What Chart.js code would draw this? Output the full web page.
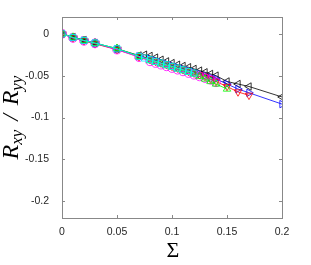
<!DOCTYPE html>
<html>
<head>
<meta charset="utf-8">
<script src="https://cdn.jsdelivr.net/npm/chart.js@4"></script>
<style>
  html, body { margin: 0; padding: 0; background: #fff; }
  #wrap { width: 311px; height: 265px; }
</style>
</head>
<body>
<div id="wrap"><canvas id="c" width="311" height="265"></canvas></div>
<script>
// axis ticks
const xTicks = [0, 0.05, 0.1, 0.15, 0.2];
const xTickLabels = ['0', '0.05', '0.1', '0.15', '0.2'];
const yTicks = [-0.2, -0.15, -0.1, -0.05, 0];
const yTickLabels = ['-0.2', '-0.15', '-0.1', '-0.05', '0'];

// series (Sigma, Rxy/Ryy)
const blackSigma = [0, 0.01, 0.02, 0.03, 0.05, 0.07, 0.075, 0.08, 0.085, 0.09, 0.095, 0.1, 0.105, 0.11, 0.115, 0.12, 0.125, 0.13, 0.135, 0.14, 0.15, 0.16, 0.17, 0.2];
const blackRatio = [0, -0.004, -0.0075, -0.011, -0.018, -0.026, -0.025, -0.0265, -0.0285, -0.031, -0.033, -0.035, -0.037, -0.0385, -0.040, -0.042, -0.044, -0.046, -0.048, -0.050, -0.057, -0.060, -0.063, -0.0755];

const blueSigma = [0, 0.01, 0.02, 0.03, 0.05, 0.07, 0.08, 0.085, 0.09, 0.095, 0.1, 0.105, 0.11, 0.115, 0.12, 0.125, 0.13, 0.135, 0.14, 0.15, 0.16, 0.17, 0.2];
const blueRatio = [0, -0.0045, -0.008, -0.0115, -0.0185, -0.027, -0.030, -0.032, -0.034, -0.036, -0.038, -0.040, -0.042, -0.044, -0.046, -0.048, -0.050, -0.052, -0.054, -0.060, -0.066, -0.0705, -0.084];

const redSigma = [0, 0.01, 0.02, 0.03, 0.05, 0.07, 0.08, 0.085, 0.09, 0.095, 0.1, 0.105, 0.11, 0.115, 0.12, 0.125, 0.13, 0.135, 0.14, 0.15, 0.16, 0.17];
const redRatio = [0, -0.005, -0.0085, -0.012, -0.019, -0.0275, -0.031, -0.033, -0.035, -0.037, -0.039, -0.041, -0.043, -0.045, -0.047, -0.049, -0.051, -0.054, -0.057, -0.063, -0.0695, -0.0735];

const greenSigma = [0, 0.01, 0.02, 0.03, 0.05, 0.07, 0.08, 0.085, 0.09, 0.095, 0.1, 0.105, 0.11, 0.115, 0.12, 0.125, 0.13, 0.135, 0.14, 0.15];
const greenRatio = [0, -0.004, -0.008, -0.0115, -0.0175, -0.027, -0.032, -0.034, -0.036, -0.038, -0.040, -0.042, -0.044, -0.046, -0.048, -0.051, -0.054, -0.057, -0.060, -0.066];

const magentaSigma = [0, 0.01, 0.02, 0.03, 0.05, 0.07, 0.08, 0.085, 0.09, 0.095, 0.1, 0.105, 0.11, 0.115, 0.12, 0.125, 0.13, 0.135, 0.14];
const magentaRatio = [0, -0.005, -0.0085, -0.0115, -0.019, -0.028, -0.033, -0.035, -0.037, -0.039, -0.041, -0.043, -0.045, -0.047, -0.049, -0.051, -0.053, -0.055, -0.058];

const cyanSigma = [0, 0.01, 0.02, 0.03, 0.05, 0.07, 0.075, 0.08, 0.085, 0.09, 0.095, 0.1, 0.105, 0.11, 0.115, 0.12];
const cyanRatio = [0, -0.0045, -0.008, -0.011, -0.018, -0.027, -0.029, -0.031, -0.033, -0.035, -0.037, -0.039, -0.041, -0.043, -0.045, -0.047];

const starSigma = [0, 0.01, 0.02, 0.03, 0.05, 0.07];
const starRatio = [0, -0.0045, -0.008, -0.011, -0.018, -0.027];

const pts = (xs, ys) => xs.map((x, i) => ({ x: x, y: ys[i] }));

// pentagram marker
function pentagram(size, color) {
    const cv = document.createElement('canvas');
    cv.width = size; cv.height = size;
    const g = cv.getContext('2d');
    const r = size / 2 - 0.5, cx = size / 2, cy = size / 2;
    g.beginPath();
    for (let k = 0; k < 5; k++) {
        const a = -Math.PI / 2 + k * 4 * Math.PI / 5;
        const px = cx + r * Math.cos(a), py = cy + r * Math.sin(a);
        if (k === 0) g.moveTo(px, py); else g.lineTo(px, py);
    }
    g.closePath();
    g.strokeStyle = color;
    g.lineWidth = 1;
    g.stroke();
    return cv;
}

function series(label, data, color, style, rotation) {
    return {
        label: label,
        data: data,
        borderColor: color,
        backgroundColor: 'rgba(0,0,0,0)',
        pointBorderColor: color,
        pointBackgroundColor: 'rgba(0,0,0,0)',
        pointStyle: style,
        rotation: rotation || 0,
        pointRadius: 4.3,
        pointBorderWidth: 0.8,
        borderWidth: 0.8,
        showLine: true,
        tension: 0
    };
}

const frame = {
    id: 'frame',
    afterDraw(chart) {
        const ctx = chart.ctx;
        const a = chart.chartArea;
        const xs = chart.scales.x, ys = chart.scales.y;
        ctx.save();
        ctx.strokeStyle = '#888888';
        ctx.lineWidth = 1;
        ctx.strokeRect(Math.round(a.left) + 0.5, Math.round(a.top) + 0.5,
            Math.round(a.right - a.left), Math.round(a.bottom - a.top));
        ctx.beginPath();
        const t = 3;
        xTicks.forEach(v => {
            const px = Math.round(xs.getPixelForValue(v)) + 0.5;
            ctx.moveTo(px, a.bottom); ctx.lineTo(px, a.bottom - t);
            ctx.moveTo(px, a.top); ctx.lineTo(px, a.top + t);
        });
        yTicks.forEach(v => {
            const py = Math.round(ys.getPixelForValue(v)) + 0.5;
            ctx.moveTo(a.left, py); ctx.lineTo(a.left + t, py);
            ctx.moveTo(a.right, py); ctx.lineTo(a.right - t, py);
        });
        ctx.stroke();

        // x title
        ctx.fillStyle = '#000';
        ctx.font = '22px "Liberation Serif", serif';
        ctx.textAlign = 'center';
        ctx.textBaseline = 'alphabetic';
        ctx.fillText('\u03A3', (a.left + a.right) / 2 + 1, 257);

        // y title: R_xy / R_yy
        const big = 'italic 24px "Liberation Serif", serif';
        const small = 'italic 17px "Liberation Serif", serif';
        const parts = [
            { s: 'R', f: big, dy: 0 },
            { s: 'xy', f: small, dy: 4 },
            { s: '\u2009/\u2009', f: big, dy: 0, pad: 4 },
            { s: 'R', f: big, dy: 0 },
            { s: 'yy', f: small, dy: 4 }
        ];
        let total = 0;
        parts.forEach(p => { ctx.font = p.f; p.w = ctx.measureText(p.s).width + (p.pad || 0) * 2; total += p.w; });
        ctx.translate(18, (a.top + a.bottom) / 2);
        ctx.rotate(-Math.PI / 2);
        ctx.textAlign = 'left';
        let xpos = -total / 2;
        parts.forEach(p => {
            ctx.font = p.f;
            ctx.fillText(p.s, xpos + (p.pad || 0), p.dy);
            xpos += p.w;
        });
        ctx.restore();
    }
};

new Chart(document.getElementById('c'), {
    type: 'scatter',
    data: {
        datasets: [
            series('cyan', pts(cyanSigma, cyanRatio), '#00ffff', 'rect', 0),
            series('green', pts(greenSigma, greenRatio), '#00ff00', 'triangle', 0),
            series('magenta', pts(magentaSigma, magentaRatio), '#ff00ff', 'circle', 0),
            series('red', pts(redSigma, redRatio), '#ff0000', 'triangle', 180),
            series('blue', pts(blueSigma, blueRatio), '#0000ff', 'triangle', 90),
            series('black', pts(blackSigma, blackRatio), '#000000', 'triangle', -90),
            Object.assign(series('star', pts(starSigma, starRatio), '#000000', pentagram(9, '#000'), 0), { showLine: false })
        ]
    },
    options: {
        responsive: false,
        animation: false,
        devicePixelRatio: 1,
        layout: { padding: { left: 0, right: 29, top: 17, bottom: 0 } },
        plugins: { legend: { display: false }, tooltip: { enabled: false } },
        scales: {
            x: {
                type: 'linear',
                min: 0, max: 0.2,
                grid: { display: false },
                border: { display: false },
                afterBuildTicks: s => { s.ticks = xTicks.map(v => ({ value: v })); },
                afterFit: s => { s.height = 47; },
                ticks: {
                    color: '#262626',
                    font: { family: '"Liberation Sans", Arial, sans-serif', size: 10.5 },
                    padding: 0,
                    maxRotation: 0,
                    callback: (v) => xTickLabels[xTicks.indexOf(v)]
                }
            },
            y: {
                type: 'linear',
                min: -0.22, max: 0.02,
                grid: { display: false },
                border: { display: false },
                afterBuildTicks: s => { s.ticks = yTicks.map(v => ({ value: v })); },
                afterFit: s => { s.width = 62; },
                ticks: {
                    color: '#262626',
                    font: { family: '"Liberation Sans", Arial, sans-serif', size: 10.5 },
                    padding: 5,
                    callback: (v) => yTickLabels[yTicks.indexOf(v)]
                }
            }
        }
    },
    plugins: [frame]
});
</script>
</body>
</html>
